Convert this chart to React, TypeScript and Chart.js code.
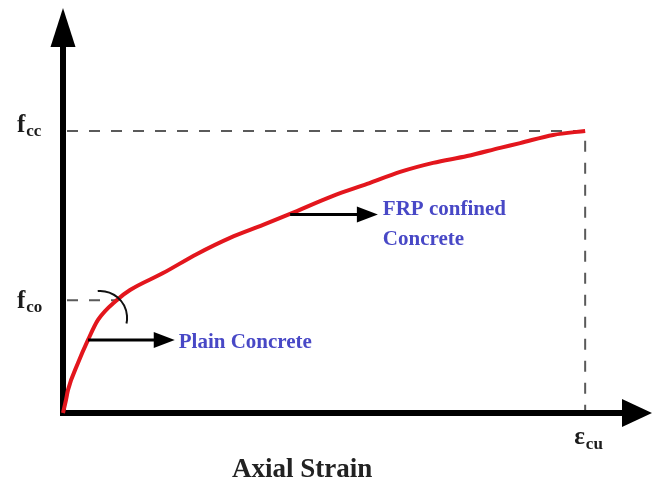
import React, { useEffect, useRef } from "react";
import { Chart, registerables } from "chart.js";

Chart.register(...registerables);

// Curve: axial strain (ε / ε_cu) vs stress (f / f_cc)
const strain = [0, 0.0057, 0.0096, 0.0287, 0.0479, 0.067, 0.1034, 0.1284, 0.1916, 0.2567, 0.3199, 0.3831, 0.4349, 0.5172, 0.5824, 0.6456, 0.7088, 0.7739, 0.8372, 0.8755, 0.9387, 1.0];
const stress = [0, 0.046, 0.082, 0.177, 0.259, 0.33, 0.401, 0.436, 0.496, 0.564, 0.621, 0.667, 0.706, 0.77, 0.812, 0.855, 0.887, 0.911, 0.94, 0.957, 0.986, 1.0];

// Reference levels
const fcc = 1.0;
const fco = 0.4;
const ecu = 1.0;
const fcoStrain = 0.106;

// Axis extents (arrow tips)
const xMax = 1.128;
const yMax = 1.436;

// Annotation arrows
const arrowLabels = [["Plain Concrete"], ["FRP confined", "Concrete"]];
const arrowStartX = [0.048, 0.435];
const arrowEndX = [0.214, 0.603];
const arrowY = [0.259, 0.704];

// Knee arc marker
const arcCenter = [0.071, 0.337];

// Axis labels
const yLabelValues = [fcc, fco];
const yLabelSubs = ["cc", "co"];
const xLabelSub = "cu";
const xTitle = "Axial Strain";

const SERIF = '"Liberation Serif", "Times New Roman", serif';

export default function App() {
  const ref = useRef<HTMLCanvasElement | null>(null);

  useEffect(() => {
    document.body.style.margin = "0";
    const canvas = ref.current;
    if (!canvas) return;

    const plugin = {
      id: "schematic",
      beforeDatasetsDraw(chart: any) {
        const ctx = chart.ctx as CanvasRenderingContext2D;
        const xs = chart.scales.x;
        const ys = chart.scales.y;
        const X = (v: number) => xs.getPixelForValue(v);
        const Y = (v: number) => ys.getPixelForValue(v);
        ctx.save();
        // dashed guide lines
        ctx.strokeStyle = "#5a5a5a";
        ctx.lineWidth = 2;
        ctx.setLineDash([11, 11]);
        ctx.beginPath();
        ctx.moveTo(X(0) + 4, Y(fcc));
        ctx.lineTo(X(ecu), Y(fcc));
        ctx.lineTo(X(ecu), Y(0) - 3);
        ctx.moveTo(X(0) + 4, Y(fco));
        ctx.lineTo(X(fcoStrain), Y(fco));
        ctx.stroke();
        ctx.setLineDash([]);

        // axes
        ctx.strokeStyle = "#000";
        ctx.fillStyle = "#000";
        ctx.lineWidth = 6;
        ctx.lineCap = "butt";
        ctx.beginPath();
        ctx.moveTo(X(0), Y(0) + 3);
        ctx.lineTo(X(0), Y(yMax) + 36);
        ctx.moveTo(X(0) - 3, Y(0));
        ctx.lineTo(X(xMax) - 28, Y(0));
        ctx.stroke();
        // y arrowhead
        ctx.beginPath();
        ctx.moveTo(X(0), Y(yMax));
        ctx.lineTo(X(0) - 12.5, Y(yMax) + 39);
        ctx.lineTo(X(0) + 12.5, Y(yMax) + 39);
        ctx.closePath();
        ctx.fill();
        // x arrowhead
        ctx.beginPath();
        ctx.moveTo(X(xMax), Y(0));
        ctx.lineTo(X(xMax) - 30, Y(0) - 14);
        ctx.lineTo(X(xMax) - 30, Y(0) + 14);
        ctx.closePath();
        ctx.fill();
        ctx.restore();
      },
      afterDatasetsDraw(chart: any) {
        const ctx = chart.ctx as CanvasRenderingContext2D;
        const xs = chart.scales.x;
        const ys = chart.scales.y;
        const X = (v: number) => xs.getPixelForValue(v);
        const Y = (v: number) => ys.getPixelForValue(v);
        ctx.save();

        // knee arc
        ctx.strokeStyle = "#111";
        ctx.lineWidth = 2;
        ctx.beginPath();
        ctx.arc(X(arcCenter[0]), Y(arcCenter[1]), 27, (-95 * Math.PI) / 180, (12 * Math.PI) / 180);
        ctx.stroke();

        // annotation arrows + labels
        for (let i = 0; i < arrowLabels.length; i++) {
          const x0 = X(arrowStartX[i]);
          const x1 = X(arrowEndX[i]);
          const y = Y(arrowY[i]);
          ctx.strokeStyle = "#000";
          ctx.fillStyle = "#000";
          ctx.lineWidth = 3;
          ctx.beginPath();
          ctx.moveTo(x0, y);
          ctx.lineTo(x1 - 18, y);
          ctx.stroke();
          ctx.beginPath();
          ctx.moveTo(x1, y);
          ctx.lineTo(x1 - 21, y - 8);
          ctx.lineTo(x1 - 21, y + 8);
          ctx.closePath();
          ctx.fill();

          ctx.fillStyle = "#4848c6";
          ctx.font = `bold 21px ${SERIF}`;
          ctx.textAlign = "left";
          ctx.textBaseline = "alphabetic";
          const lines = arrowLabels[i];
          if (lines.length === 1) {
            ctx.fillText(lines[0], x1 + 4, y + 8);
          } else {
            ctx.fillText(lines[0], x1 + 5, y + 1);
            ctx.fillText(lines[1], x1 + 5, y + 31);
          }
        }

        // y labels f_cc, f_co
        ctx.fillStyle = "#1c1c1c";
        ctx.textAlign = "left";
        ctx.textBaseline = "alphabetic";
        for (let i = 0; i < yLabelValues.length; i++) {
          const y = Y(yLabelValues[i]);
          const base = i === 0 ? y + 1 : y + 8;
          const left = X(0) - 46;
          ctx.font = `bold 25px ${SERIF}`;
          ctx.fillText("f", left, base);
          const w = ctx.measureText("f").width;
          ctx.font = `bold 17px ${SERIF}`;
          ctx.fillText(yLabelSubs[i], left + w + 1, base + 4);
        }

        // x label ε_cu
        {
          const x = X(ecu);
          const base = Y(0) + 31;
          ctx.font = `bold 25px ${SERIF}`;
          const w = ctx.measureText("ε").width;
          ctx.fillText("ε", x - 11, base);
          ctx.font = `bold 17px ${SERIF}`;
          ctx.fillText(xLabelSub, x - 11 + w + 1, base + 5);
        }

        // x title
        ctx.font = `bold 27px ${SERIF}`;
        ctx.fillStyle = "#222";
        ctx.textAlign = "center";
        ctx.fillText(xTitle, X(0.458), Y(0) + 64);

        ctx.restore();
      },
    };

    const chart = new Chart(canvas, {
      type: "scatter",
      data: {
        datasets: [
          {
            label: "Stress",
            data: strain.map((x, i) => ({ x, y: stress[i] })),
            showLine: true,
            borderColor: "#e3161d",
            backgroundColor: "#e3161d",
            borderWidth: 4,
            pointRadius: 0,
            tension: 0.4,
            cubicInterpolationMode: "monotone",
            clip: false,
          } as any,
        ],
      },
      options: {
        responsive: false,
        animation: false,
        layout: { padding: { left: 63, right: 4, top: 8, bottom: 74 } },
        plugins: { legend: { display: false }, tooltip: { enabled: false } },
        scales: {
          x: { type: "linear", min: 0, max: xMax, display: false },
          y: { type: "linear", min: 0, max: yMax, display: false },
        },
      },
      plugins: [plugin],
    });
    return () => chart.destroy();
  }, []);

  return (
    <div style={{ position: "fixed", left: 0, top: 0, width: 656, height: 487, background: "#fff" }}>
      <canvas ref={ref} width={656} height={487} style={{ display: "block" }} />
    </div>
  );
}
